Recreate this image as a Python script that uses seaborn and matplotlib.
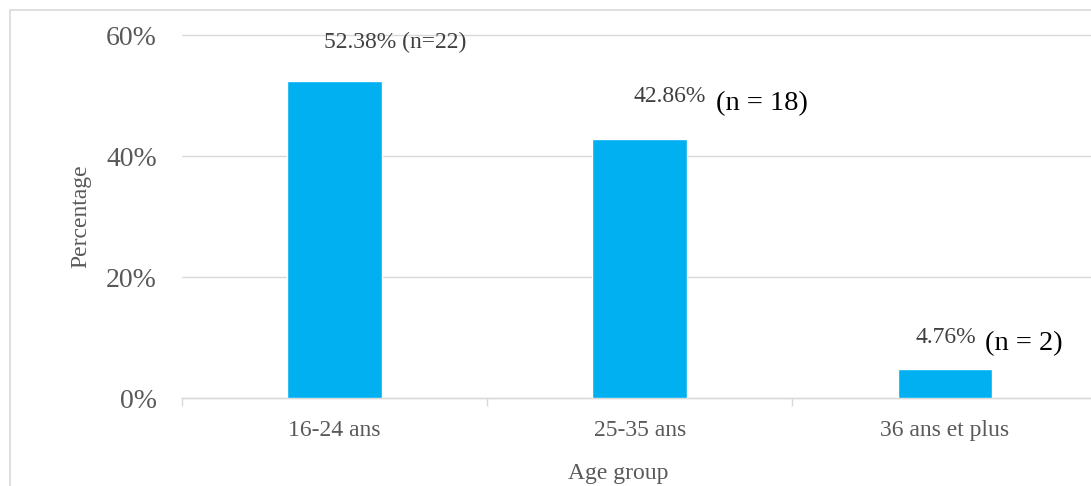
import matplotlib
matplotlib.use("Agg")
import matplotlib.pyplot as plt
from matplotlib.patches import Rectangle
from matplotlib.ticker import FuncFormatter, FixedLocator
import seaborn as sns
import pandas as pd

# Data
age_groups = ["16-24 ans", "25-35 ans", "36 ans et plus"]
percentages = [52.38, 42.86, 4.76]
counts = [22, 18, 2]
y_ticks = [0, 20, 40, 60]

sns.set_theme(style="white")
plt.rcParams["font.family"] = ["Liberation Serif", "DejaVu Serif"]

df = pd.DataFrame({"Age group": age_groups, "Percentage": percentages})

fig = plt.figure(figsize=(10.91, 4.86), dpi=100)
W, H = 1091, 486
ax = fig.add_axes([182 / W, 1 - 398 / H, 915.5 / W, 363 / H])

sns.barplot(data=df, x="Age group", y="Percentage", color="#00B0F0",
            width=0.31, saturation=1, ax=ax, zorder=3)

grid_c = "#d9d9d9"
ax.set_xlim(-0.5, 2.5)
ax.set_ylim(0, 60)
ax.yaxis.set_major_locator(FixedLocator(y_ticks))
ax.yaxis.set_major_formatter(FuncFormatter(lambda v, _: f"{v:.0f}%"))
ax.grid(axis="y", color=grid_c, lw=1.0, zorder=0)
for gl in ax.get_ygridlines():
    gl.set_clip_on(False)
for side in ["top", "right", "left"]:
    ax.spines[side].set_visible(False)
ax.spines["bottom"].set_color(grid_c)
ax.spines["bottom"].set_linewidth(1.0)

ax.tick_params(axis="y", length=0, pad=18, labelsize=20, labelcolor="#595959")
ax.tick_params(axis="x", which="major", length=0, pad=16, labelsize=17,
               labelcolor="#595959")
ax.xaxis.set_minor_locator(FixedLocator([-0.5, 0.5, 1.5, 2.5]))
ax.tick_params(axis="x", which="minor", length=6, width=1.0, color=grid_c,
               direction="out", bottom=True)

ax.set_xlabel("Age group", fontsize=17, color="#595959")
ax.set_ylabel("Percentage", fontsize=17, color="#595959")
ax.xaxis.set_label_coords(0.476, -0.207)
ax.yaxis.set_label_coords(-0.111, 0.5)
ax.xaxis.label.set_va("center")
ax.yaxis.label.set_va("center")

# Value labels
pct_color = "#404040"
ax.annotate(f"{percentages[0]:.2f}% (n={counts[0]})", xy=(0, percentages[0]),
            xytext=(61, 39), textcoords="offset pixels", ha="center",
            va="center", fontsize=17, color=pct_color)
pct_offsets = [None, (30, 42), (1, 32)]
n_offsets = [None, (122, 35), (78.5, 26)]
for i in (1, 2):
    ax.annotate(f"{percentages[i]:.2f}%", xy=(i, percentages[i]),
                xytext=pct_offsets[i], textcoords="offset pixels",
                ha="center", va="center", fontsize=17, color=pct_color)
    ax.annotate(f"(n = {counts[i]})", xy=(i, percentages[i]),
                xytext=n_offsets[i], textcoords="offset pixels",
                ha="center", va="center", fontsize=20.5, color="black")

# Outer frame
fig.patches.append(Rectangle((9.5 / W, -0.1), 1.2, 1 - 9.5 / H + 0.1,
                             transform=fig.transFigure, fill=False,
                             edgecolor=grid_c, lw=1.2))

fig.savefig("out.png", dpi=100)
